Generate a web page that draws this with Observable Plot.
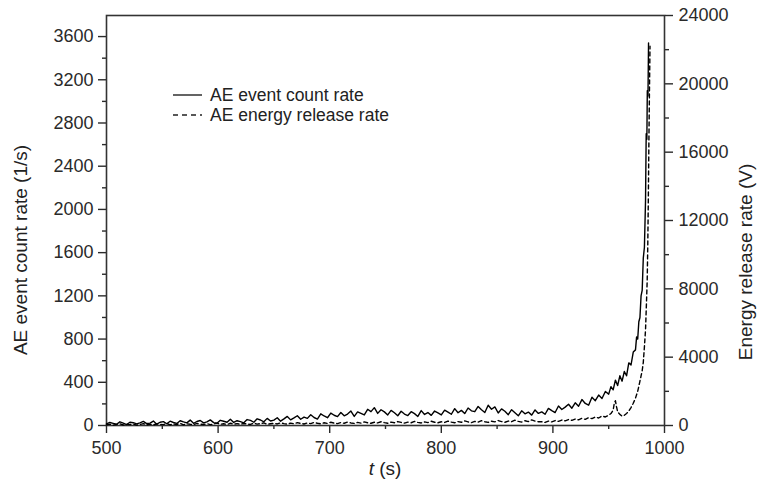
<!DOCTYPE html>
<html>
<head>
<meta charset="utf-8">
<script src="https://cdn.jsdelivr.net/npm/d3@7"></script>
<script src="https://cdn.jsdelivr.net/npm/@observablehq/plot@0.6"></script>
<style>
  html, body { margin: 0; padding: 0; background: #fff; }
  #chart { position: relative; width: 758px; height: 483px; }
</style>
</head>
<body>
<div id="chart"></div>
<script>
// ---- Data ----
// AE event count rate (1/s), sampled every 3 s from 500 s to 950 s
const countStart = 500, countStep = 3;
const countBody = [
  14, 28, 20, 12, 34, 22, 9, 30, 26, 15,
  24, 38, 18, 22, 41, 12, 30, 36, 16, 40,
  28, 19, 44, 33, 24, 50, 20, 37, 46, 25,
  34, 52, 27, 21, 48, 39, 30, 58, 28, 44,
  36, 25, 55, 47, 30, 62, 51, 34, 66, 42,
  50, 72, 40, 61, 84, 52, 70, 90, 58, 78,
  66, 100, 74, 60, 108, 88, 72, 115, 95, 82,
  120, 90, 106, 134, 84, 126, 112, 98, 150, 128,
  165, 112, 146, 126, 98, 140, 118, 90, 132, 106,
  92, 128, 110, 84, 138, 102, 120, 94, 134, 116,
  98, 142, 124, 104, 156, 118, 140, 110, 162, 136,
  128, 176, 146, 120, 188, 150, 172, 116, 154, 132,
  100, 146, 118, 90, 136, 108, 124, 96, 144, 112,
  126, 104, 158, 138, 120, 180, 148, 170, 196, 160,
  210, 178, 240, 204, 188, 262, 230, 282, 250, 315,
  290
];
const countTailT = [952, 954, 956, 958, 960, 962, 964, 966, 968, 970, 972, 974, 975, 976, 977, 978, 979, 980, 981, 982, 983, 983.6, 984.2, 984.6, 985.2, 985.7];
const countTailV = [360, 330, 420, 370, 460, 410, 500, 460, 580, 560, 680, 700, 820, 800, 960, 1000, 1200, 1250, 1550, 1650, 2080, 2700, 2650, 3100, 3050, 3540];

// AE energy release rate (V), sampled every 3 s from 500 s to 950 s
const energyBody = [
  40, 80, 20, 60, 100, 30, 70, 50, 90, 20,
  60, 110, 40, 80, 30, 100, 70, 50, 120, 40,
  90, 60, 130, 40, 100, 70, 50, 120, 80, 60,
  110, 50, 90, 140, 70, 100, 60, 130, 80, 110,
  70, 120, 90, 60, 140, 80, 110, 150, 70, 100,
  130, 90, 160, 110, 80, 140, 100, 170, 120, 90,
  150, 110, 180, 130, 100, 160, 120, 190, 140, 110,
  170, 130, 200, 150, 120, 180, 140, 210, 160, 130,
  190, 150, 220, 170, 130, 200, 160, 230, 180, 140,
  200, 160, 240, 180, 150, 210, 170, 250, 190, 160,
  220, 180, 260, 200, 160, 230, 190, 270, 210, 170,
  240, 200, 280, 220, 180, 250, 210, 290, 230, 190,
  260, 220, 310, 240, 200, 280, 230, 330, 260, 220,
  220, 180, 260, 210, 290, 240, 320, 270, 350, 300,
  380, 330, 420, 360, 460, 400, 500, 440, 560, 500,
  600
];
const energyTailT = [952, 954, 955, 956, 957, 958, 960, 962, 964, 966, 968, 970, 972, 974, 976, 977, 978, 979, 980, 981, 982, 983, 983.9, 984.5, 985, 985.5, 986, 986.5, 987];
const energyTailV = [700, 900, 1300, 1450, 1100, 800, 650, 550, 600, 700, 850, 1050, 1300, 1600, 2000, 2300, 2600, 2900, 3200, 3700, 4600, 5600, 7300, 8500, 10500, 13200, 16500, 19500, 22200];

// Axis ticks
const xTicks = [500, 600, 700, 800, 900, 1000];
const xMinor = [550, 650, 750, 850, 950];
const yTicks = [0, 400, 800, 1200, 1600, 2000, 2400, 2800, 3200, 3600];
const yMinor = [200, 600, 1000, 1400, 1800, 2200, 2600, 3000, 3400];
const eTicks = [0, 4000, 8000, 12000, 16000, 20000, 24000];
const eMinor = [2000, 6000, 10000, 14000, 18000, 22000];

// ---- Build tables ----
const YMAX = 3795, EMAX = 24000, k = YMAX / EMAX;
const countData = countBody.map((v, i) => ({t: countStart + i * countStep, v}))
  .concat(countTailT.map((t, i) => ({t, v: countTailV[i]})));
const energyData = energyBody.map((e, i) => ({t: countStart + i * countStep, e}))
  .concat(energyTailT.map((t, i) => ({t, e: energyTailV[i]})));

const FONT = "'Liberation Sans', Arial, Helvetica, sans-serif";
const FS = 18;

const chart = Plot.plot({
  width: 758, height: 483,
  marginTop: 15, marginRight: 94, marginBottom: 58, marginLeft: 106,
  style: {fontFamily: FONT, fontSize: "18px", color: "#2a2a2a", background: "white", overflow: "visible"},
  x: {domain: [500, 1000]},
  y: {domain: [0, YMAX]},
  marks: [
    Plot.axisX({ticks: xTicks, tickFormat: d => String(d), tickSize: 8, tickPadding: 8, label: null, strokeWidth: 1.4, fontSize: FS}),
    Plot.axisX({ticks: xMinor, tickSize: 4, tickFormat: () => "", label: null, strokeWidth: 1.4}),
    Plot.axisY({ticks: yTicks, tickFormat: d => String(d), tickSize: 8, tickPadding: 5, label: null, strokeWidth: 1.4, fontSize: FS}),
    Plot.axisY({ticks: yMinor, tickSize: 4, tickFormat: () => "", label: null, strokeWidth: 1.4}),
    Plot.axisY({anchor: "right", ticks: eTicks.map(e => e * k), tickFormat: d => String(Math.round(d / k)),
      tickSize: 8, tickPadding: 6, label: null, strokeWidth: 1.4, fontSize: FS}),
    Plot.axisY({anchor: "right", ticks: eMinor.map(e => e * k), tickSize: 4, tickFormat: () => "", label: null, strokeWidth: 1.4}),
    Plot.frame({stroke: "#333", strokeWidth: 1.6}),
    Plot.line(countData, {x: "t", y: "v", stroke: "black", strokeWidth: 1.4}),
    Plot.line(energyData, {x: "t", y: d => d.e * k, stroke: "black", strokeWidth: 1.4, strokeDasharray: "4,3"})
  ]
});

document.getElementById("chart").appendChild(chart);

// ---- Titles and legend ----
const svg = d3.select(chart);
svg.append("text")
  .attr("transform", "translate(27,250) rotate(-90)")
  .attr("text-anchor", "middle")
  .attr("font-family", FONT).attr("font-size", 19).attr("fill", "#222")
  .text("AE event count rate (1/s)");
svg.append("text")
  .attr("transform", "translate(752,262) rotate(-90)")
  .attr("text-anchor", "middle")
  .attr("font-family", FONT).attr("font-size", 19).attr("fill", "#222")
  .text("Energy release rate (V)");
const xt = svg.append("text")
  .attr("x", 385).attr("y", 475)
  .attr("text-anchor", "middle")
  .attr("font-family", FONT).attr("font-size", 19).attr("fill", "#222");
xt.append("tspan").attr("font-style", "italic").text("t");
xt.append("tspan").text(" (s)");

const legend = svg.append("g").attr("font-family", FONT).attr("font-size", 17.5).attr("fill", "#222").attr("text-anchor", "start");
legend.append("line").attr("x1", 173).attr("x2", 202).attr("y1", 95).attr("y2", 95)
  .attr("stroke", "#222").attr("stroke-width", 1.4);
legend.append("text").attr("x", 210).attr("y", 101).text("AE event count rate");
legend.append("line").attr("x1", 173).attr("x2", 202).attr("y1", 115).attr("y2", 115)
  .attr("stroke", "#222").attr("stroke-width", 1.4).attr("stroke-dasharray", "5,4");
legend.append("text").attr("x", 210).attr("y", 121).text("AE energy release rate");
</script>
</body>
</html>
